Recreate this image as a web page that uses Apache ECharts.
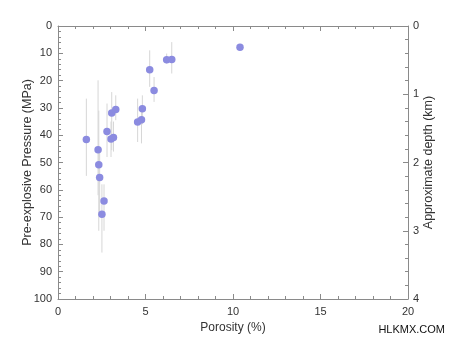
<!DOCTYPE html>
<html>
<head>
<meta charset="utf-8">
<script src="https://cdn.jsdelivr.net/npm/echarts@6/dist/echarts.min.js"></script>
<style>html,body{margin:0;padding:0;background:#fff}#c{width:450px;height:337px}</style>
</head>
<body>
<div id="c"></div>
<script>
const porosity = [1.62, 2.29, 2.33, 2.38, 2.63, 2.51, 2.80, 3.07, 3.30, 3.03, 3.17, 4.55, 4.77, 4.82, 5.24, 5.49, 6.21, 6.50, 10.40];
const pressure = [41.6, 45.3, 50.8, 55.5, 64.1, 69.0, 38.6, 31.9, 30.6, 41.4, 40.8, 35.2, 34.3, 30.3, 16.0, 23.6, 12.4, 12.3, 7.8];
const errLow   = [26.6, 19.9, 31.0, 45.0, 58.0, 58.0, 28.4, 24.2, 25.4, 35.0, 35.0, 26.6, 29.0, 25.4, 8.9, 18.7, 10.1, 5.9, 7.8];
const errHigh  = [54.9, 62.0, 75.0, 68.0, 75.0, 83.0, 48.0, 45.5, 34.5, 48.0, 46.0, 42.5, 43.0, 36.0, 22.3, 27.8, 13.8, 17.4, 7.8];
const xTicks = [0, 5, 10, 15, 20];
const yTicks = [0, 10, 20, 30, 40, 50, 60, 70, 80, 90, 100];
const depthTicks = [0, 1, 2, 3, 4];

const axisColor = '#8a8a8a';
const font = 'Liberation Sans, Arial, sans-serif';
const pts = porosity.map((p, i) => [p, pressure[i]]);
const bars = porosity.map((p, i) => [p, errLow[i], errHigh[i]]);

const chart = echarts.init(document.getElementById('c'), null, {renderer: 'canvas'});
const lineStyle = {color: axisColor, width: 1};
chart.setOption({
  animation: false,
  backgroundColor: '#fff',
  grid: {left: 58, right: 42, top: 26, bottom: 38, containLabel: false, outerBoundsMode: 'none'},
  xAxis: [{
    type: 'value', min: xTicks[0], max: xTicks[xTicks.length - 1], interval: 5,
    name: 'Porosity (%)', nameLocation: 'middle', nameGap: 23, nameMoveOverlap: false,
    nameTextStyle: {fontFamily: font, fontSize: 12, color: '#333'},
    axisLine: {show: true, onZero: false, lineStyle},
    axisTick: {inside: true, length: 5, lineStyle},
    minorTick: {show: true, splitNumber: 5, length: 3, lineStyle},
    axisLabel: {fontFamily: font, fontSize: 11, color: '#333', margin: 7},
    splitLine: {show: false}
  }, {
    type: 'value', position: 'top', min: xTicks[0], max: xTicks[xTicks.length - 1], interval: 5,
    axisLine: {show: true, onZero: false, lineStyle},
    axisTick: {inside: true, length: 5, lineStyle},
    minorTick: {show: true, splitNumber: 5, length: 3, lineStyle},
    axisLabel: {show: false}, splitLine: {show: false}
  }],
  yAxis: [{
    type: 'value', inverse: true, min: yTicks[0], max: yTicks[yTicks.length - 1], interval: 10,
    name: 'Pre-explosive Pressure (MPa)', nameLocation: 'middle', nameGap: 24, nameRotate: 90, nameMoveOverlap: false,
    nameTextStyle: {fontFamily: font, fontSize: 12.5, color: '#333'},
    axisLine: {show: true, onZero: false, lineStyle},
    axisTick: {inside: true, length: 5, lineStyle},
    minorTick: {show: true, splitNumber: 5, length: 3, lineStyle},
    axisLabel: {fontFamily: font, fontSize: 11, color: '#333', margin: 6},
    splitLine: {show: false}
  }, {
    type: 'value', position: 'right', inverse: true, min: depthTicks[0], max: depthTicks[depthTicks.length - 1], interval: 1,
    name: 'Approximate depth (km)', nameLocation: 'middle', nameGap: 14, nameRotate: 90, nameMoveOverlap: false,
    nameTextStyle: {fontFamily: font, fontSize: 12.5, color: '#333'},
    axisLine: {show: true, onZero: false, lineStyle},
    axisTick: {inside: true, length: 5, lineStyle},
    minorTick: {show: true, splitNumber: 5, length: 3, lineStyle},
    axisLabel: {fontFamily: font, fontSize: 11, color: '#333', margin: 5},
    splitLine: {show: false}
  }],
  graphic: [{
    type: 'text', right: 5, bottom: 2,
    style: {text: 'HLKMX.COM', fontFamily: font, fontSize: 11, fill: '#111'}
  }],
  series: [{
    type: 'custom', xAxisIndex: 0, yAxisIndex: 0, data: bars, z: 1,
    renderItem: function (params, api) {
      const a = api.coord([api.value(0), api.value(1)]);
      const b = api.coord([api.value(0), api.value(2)]);
      return {type: 'line', shape: {x1: a[0], y1: a[1], x2: b[0], y2: b[1]},
        style: {stroke: '#d6d6d6', lineWidth: 1}};
    }
  }, {
    type: 'scatter', xAxisIndex: 0, yAxisIndex: 0, data: pts, z: 2,
    symbolSize: 7.5,
    itemStyle: {color: '#8b8be0', opacity: 1}
  }]
});
</script>
</body>
</html>
